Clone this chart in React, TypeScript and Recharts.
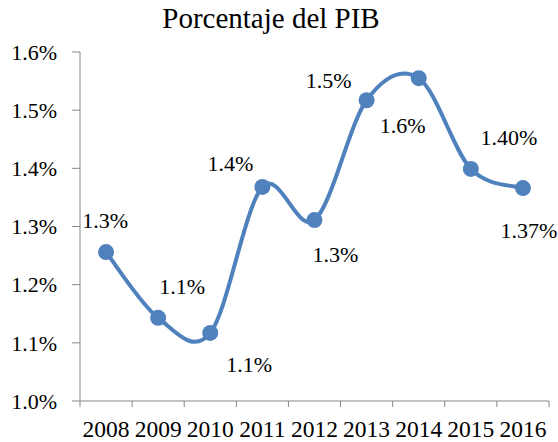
import { LineChart, Line, XAxis, YAxis, LabelList } from 'recharts';

const years = ['2008', '2009', '2010', '2011', '2012', '2013', '2014', '2015', '2016'];
const values = [1.256, 1.143, 1.117, 1.368, 1.311, 1.517, 1.555, 1.399, 1.366];
const pointLabels = ['1.3%', '1.1%', '1.1%', '1.4%', '1.3%', '1.5%', '1.6%', '1.40%', '1.37%'];
const yTicks = [1.0, 1.1, 1.2, 1.3, 1.4, 1.5, 1.6];

// where each data label sits relative to its point, in px
const labelOffsets = [
  [-1, -32], [24, -31], [39, 32], [-32, -23], [21, 34],
  [-38, -20], [-16, 47], [38, -31], [6, 42],
];

const data = years.map((y, i) => ({ x: i + 0.5, year: y, v: values[i] }));
const xTicks = years.map((_, i) => i).concat(years.length);

const FONT = 'Liberation Serif';
const BLUE = '#4F81BD';
const AXIS = '#868686';
const W = 558;
const H = 442;
const M = { top: 52, right: 9, left: 0, bottom: 0 };
const Y_W = 80;
const STEP = (W - M.right - Y_W) / years.length;

// Excel-style smoothed line (uniform Catmull-Rom)
function excelSmooth(context: any) {
  let pts: number[][] = [];
  return {
    areaStart() {},
    areaEnd() {},
    lineStart() {
      pts = [];
    },
    lineEnd() {
      if (!pts.length) return;
      context.moveTo(pts[0][0], pts[0][1]);
      for (let i = 0; i < pts.length - 1; i++) {
        const p0 = pts[i - 1] || pts[i];
        const p1 = pts[i];
        const p2 = pts[i + 1];
        const p3 = pts[i + 2] || p2;
        context.bezierCurveTo(
          p1[0] + (p2[0] - p0[0]) / 6,
          p1[1] + (p2[1] - p0[1]) / 6,
          p2[0] - (p3[0] - p1[0]) / 6,
          p2[1] - (p3[1] - p1[1]) / 6,
          p2[0],
          p2[1]
        );
      }
    },
    point(x: number, y: number) {
      pts.push([+x, +y]);
    },
  };
}

function YearTick(props: any) {
  const { x, y, payload } = props;
  const i = payload.value;
  if (i >= years.length) return null;
  return (
    <text x={x + STEP / 2} y={y + 30} textAnchor="middle" fontFamily={FONT} fontSize={23.5} fill="#000">
      {years[i]}
    </text>
  );
}

function PointLabel(props: any) {
  const { x, y, index } = props;
  const [dx, dy] = labelOffsets[index];
  return (
    <text x={x + dx} y={y + dy} textAnchor="middle" dominantBaseline="central" fontFamily={FONT} fontSize={22} fill="#000">
      {pointLabels[index]}
    </text>
  );
}

export default function App() {
  return (
    <div style={{ position: 'absolute', left: 0, top: 0, width: W, height: H, background: '#fff' }}>
      <div
        style={{
          position: 'absolute',
          top: 4,
          left: 0,
          width: 542,
          textAlign: 'center',
          fontFamily: FONT,
          fontSize: 29,
          lineHeight: '29px',
          color: '#000',
        }}
      >
        Porcentaje del PIB
      </div>
      <LineChart width={W} height={H} data={data} margin={M}>
        <XAxis
          dataKey="x"
          type="number"
          domain={[0, years.length]}
          ticks={xTicks}
          interval={0}
          height={41}
          tickSize={6}
          tickMargin={0}
          stroke={AXIS}
          tick={<YearTick />}
        />
        <YAxis
          type="number"
          domain={[1.0, 1.6]}
          ticks={yTicks}
          interval={0}
          width={Y_W}
          tickSize={8}
          tickMargin={15}
          stroke={AXIS}
          tickFormatter={(v: number) => v.toFixed(1) + '%'}
          tick={{ fontFamily: FONT, fontSize: 22, fill: '#000' }}
        />
        <Line
          dataKey="v"
          type={excelSmooth as any}
          stroke={BLUE}
          strokeWidth={4}
          dot={{ r: 8, fill: BLUE, stroke: 'none' }}
          isAnimationActive={false}
        >
          <LabelList dataKey="v" content={<PointLabel />} />
        </Line>
      </LineChart>
    </div>
  );
}
